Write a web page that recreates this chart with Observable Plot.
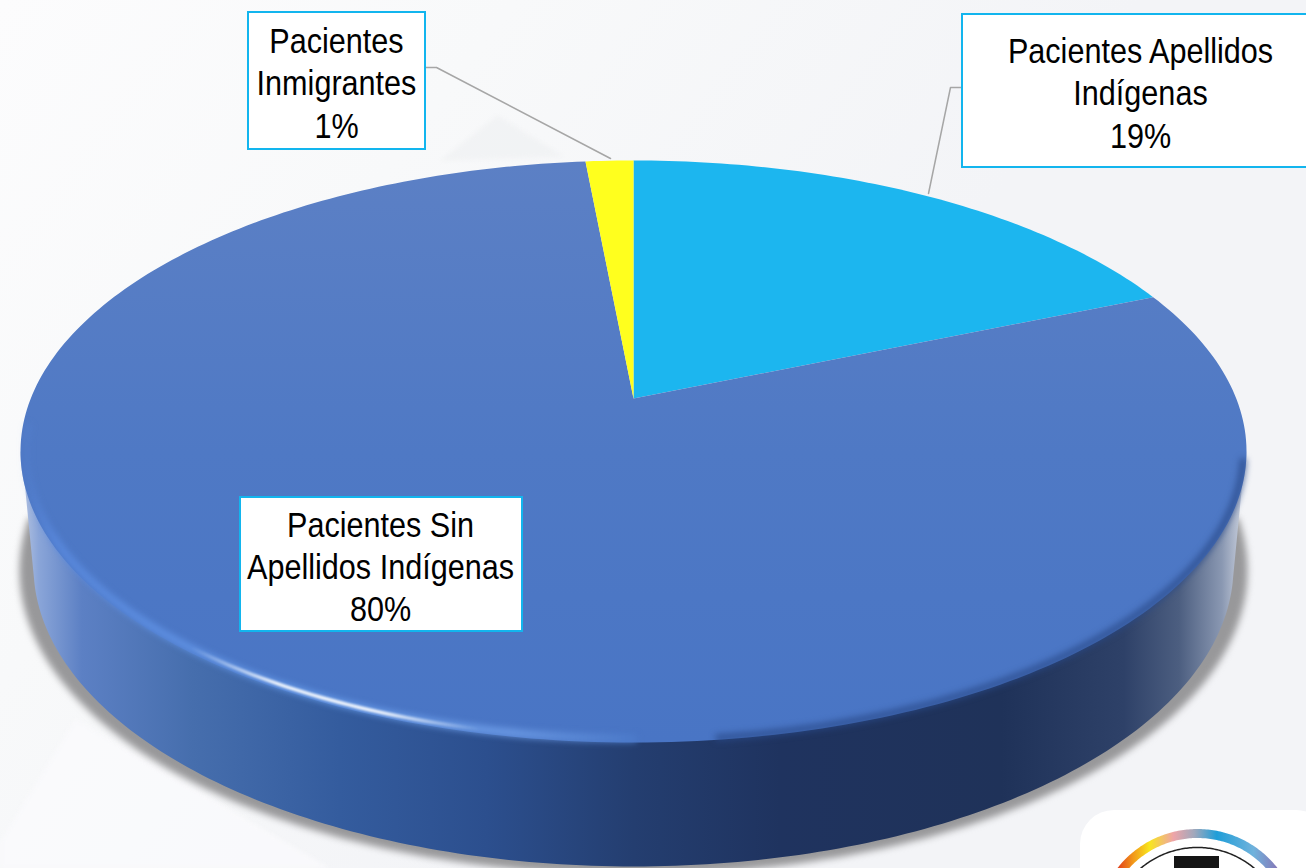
<!DOCTYPE html>
<html><head><meta charset="utf-8">
<script src="https://cdn.jsdelivr.net/npm/d3@7"></script>
<script src="https://cdn.jsdelivr.net/npm/@observablehq/plot@0.6"></script>
<style>html,body{margin:0;padding:0;overflow:hidden;background:#f4f5f8}svg{display:block}</style>
</head><body><div id="chart"></div>
<script>
// --- data ---
const categories = ["Pacientes Apellidos Indígenas", "Pacientes Sin Apellidos Indígenas", "Pacientes Inmigrantes"];
const shares = [18.7, 79.8, 1.5];          // geometric share of the pie
const labelTexts = ["Pacientes Apellidos\nIndígenas\n19%", "Pacientes Sin\nApellidos Indígenas\n80%", "Pacientes\nInmigrantes\n1%"];
const sliceFills = ["#1cb6ef", "url(#faceGrad)", "#ffff1e"];

// --- layout ---
const W = 1306, H = 868;
const top_ = {cx: 633, cy: 451, rx: 613, ry: 291};
const bottom_ = {cx: 633, cy: 566, rx: 600, ry: 300};
const shadow_ = {cx: 633, cy: 570, rx: 614, ry: 304};
const apexOffset = (398 - 451) / 291;
const labelBoxes = [
  {x1: 962, x2: 1310, y1: 14, y2: 167, tx: 1140, ty: 91.5},
  {x1: 240, x2: 522, y1: 497, y2: 631, tx: 380, ty: 565},
  {x1: 248, x2: 425, y1: 12, y2: 149, tx: 336, ty: 81.5}
];
const leaders = [
  [[962, 87], [950, 87], [928, 193]],
  [[425, 67], [436, 67], [610, 158]]
];

const rad = d => d * Math.PI / 180;
const ell = (e, deg) => [e.cx + e.rx * Math.sin(rad(deg)), e.cy - e.ry * Math.cos(rad(deg))];
const arc = (e, a, b, step = 1) => {
  const n = Math.max(2, Math.ceil(Math.abs(b - a) / step)), out = [];
  for (let i = 0; i <= n; i++) out.push(ell(e, a + (b - a) * i / n));
  return out;
};
// perspective: a share of the disc maps to a point on the tilted ellipse
const persp = deg => {
  const x = Math.sin(rad(deg)), y = -Math.cos(rad(deg)), a = apexOffset;
  const d = 1 + a * y;
  return [top_.cx + top_.rx * x * Math.sqrt(1 - a * a) / d, top_.cy + top_.ry * (y + a) / d];
};
const apex = [top_.cx, top_.cy + top_.ry * apexOffset];

let acc = 0;
const slices = shares.map((v, i) => {
  const a = acc / 100 * 360; acc += v; const b = acc / 100 * 360;
  const pts = [apex];
  const n = Math.ceil(b - a);
  for (let k = 0; k <= n; k++) pts.push(persp(a + (b - a) * k / n));
  pts.push(apex);
  return pts.map(p => ({x: p[0], y: p[1], s: categories[i], fill: sliceFills[i]}));
});

const wallPts = [...arc(top_, 270, 263), ...arc(bottom_, 268, 92), ...arc(top_, 97, 90)];
const wall = [...wallPts, wallPts[0]];
const shadow = [...arc(shadow_, 280, 80)];
const xy = {x: d => d[0], y: d => d[1]};

const logoRing = arc({cx: 1197, cy: 930, rx: 97, ry: 97}, -60, 60);
const logoInner = arc({cx: 1197, cy: 935, rx: 88, ry: 88}, -60, 60);

const defs = () => {
  const g = d3.create("svg:g");
  g.html(`<defs>
  <linearGradient id="bg" x1="0" y1="0" x2=".7" y2=".35">
    <stop offset="0" stop-color="#fcfcfd"/><stop offset=".45" stop-color="#f8f9fa"/><stop offset="1" stop-color="#f3f4f7"/>
  </linearGradient>
  <linearGradient id="faceGrad" gradientUnits="userSpaceOnUse" x1="0" y1="160" x2="0" y2="742">
    <stop offset="0" stop-color="#5c80c5"/><stop offset=".5" stop-color="#4f79c5"/><stop offset="1" stop-color="#4975c5"/>
  </linearGradient>
  <linearGradient id="wallGrad" gradientUnits="userSpaceOnUse" x1="20" y1="0" x2="1246" y2="0">
    <stop offset="0" stop-color="#b8c6e2"/><stop offset=".015" stop-color="#8aa5d8"/><stop offset=".05" stop-color="#5c80c4"/>
    <stop offset=".14" stop-color="#466ead"/><stop offset=".26" stop-color="#345c9e"/><stop offset=".38" stop-color="#2c4f8e"/>
    <stop offset=".5" stop-color="#243e70"/><stop offset=".62" stop-color="#1f335f"/><stop offset=".8" stop-color="#1f3259"/>
    <stop offset=".9" stop-color="#2e4168"/><stop offset=".945" stop-color="#4c5e80"/><stop offset=".98" stop-color="#8a98b2"/>
    <stop offset="1" stop-color="#d4d9e4"/>
  </linearGradient>
  <linearGradient id="shineGrad" gradientUnits="userSpaceOnUse" x1="20" y1="0" x2="633" y2="0">
    <stop offset="0" stop-color="#5a8adf" stop-opacity="0"/><stop offset=".06" stop-color="#5a8adf"/><stop offset=".5" stop-color="#6aa0ee"/>
    <stop offset=".8" stop-color="#6f9ee8"/><stop offset="1" stop-color="#4d7ccb"/>
  </linearGradient>
  <linearGradient id="whiteGrad" gradientUnits="userSpaceOnUse" x1="190" y1="0" x2="480" y2="0">
    <stop offset="0" stop-color="#fff" stop-opacity="0"/><stop offset=".3" stop-color="#fff" stop-opacity=".9"/>
    <stop offset=".65" stop-color="#fff" stop-opacity=".9"/><stop offset="1" stop-color="#fff" stop-opacity="0"/>
  </linearGradient>
  <linearGradient id="ringGrad" gradientUnits="userSpaceOnUse" x1="1117" y1="0" x2="1277" y2="0">
    <stop offset="0" stop-color="#e2401c"/><stop offset=".1" stop-color="#f29a1a"/><stop offset=".2" stop-color="#f8e61e"/>
    <stop offset=".35" stop-color="#eea4a8"/><stop offset=".48" stop-color="#a0a8bc"/><stop offset=".62" stop-color="#1f9ed8"/>
    <stop offset=".85" stop-color="#6fb2dc"/><stop offset="1" stop-color="#8678b8"/>
  </linearGradient></defs>`);
  return g.node();
};

const bgPolys = [
  {pts: [[0, 840], [75, 718], [330, 868], [0, 868]], f: "#fafafc", o: .9},
  {pts: [[440, 160], [497, 115], [563, 156]], f: "#eceef1", o: .55}
];

// narrow the label lettering, as in the reference
const narrow = (index, scales, values, dims, ctx, next) => {
  const g = next(index, scales, values, dims, ctx);
  g.querySelectorAll("text").forEach(t => t.setAttribute("transform", (t.getAttribute("transform") || "") + " scale(.85,1)"));
  return g;
};

const plot = Plot.plot({
  width: W, height: H, margin: 0,
  x: {domain: [0, W], range: [0, W], axis: null},
  y: {domain: [0, H], range: [0, H], axis: null},
  style: {background: "#f4f5f8", fontFamily: "'Liberation Sans', Arial, sans-serif"},
  marks: [
    defs,
    Plot.rect([0], {x1: 0, x2: W, y1: 0, y2: H, fill: "url(#bg)"}),
    ...bgPolys.map(p => Plot.line([...p.pts, p.pts[0]], {...xy, fill: p.f, fillOpacity: p.o, stroke: "none", imageFilter: "blur(2px)"})),
    // shadow
    Plot.line([...shadow, shadow[0]], {...xy, fill: "#98989a", stroke: "none", imageFilter: "blur(3.5px)"}),
    // side wall
    Plot.line(wall, {...xy, fill: "url(#wallGrad)", stroke: "none"}),
    // top face
    ...slices.map((s, i) => Plot.line(s, {x: "x", y: "y", fill: sliceFills[i], stroke: "none", curve: "linear"})),
    // bevel rim: dark on the right, bright on the lower left
    Plot.line(arc({...top_, rx: top_.rx - 3, ry: top_.ry - 2}, 92, 172), {...xy, stroke: "#2a4a88", strokeWidth: 7, strokeOpacity: .75, imageFilter: "blur(3px)"}),
    Plot.line(arc({...top_, rx: top_.rx - 5, ry: top_.ry - 4}, 180, 275), {...xy, stroke: "url(#shineGrad)", strokeWidth: 8, strokeOpacity: .85, imageFilter: "blur(3px)"}),
    Plot.line(arc({...top_, rx: top_.rx - 7, ry: top_.ry - 4}, 192, 232), {...xy, stroke: "url(#whiteGrad)", strokeWidth: 3.5, imageFilter: "blur(1px)"}),
    // leaders
    ...leaders.map(l => Plot.line(l, {...xy, stroke: "#a6a6a6", strokeWidth: 1.5})),
    // label boxes
    Plot.rect(labelBoxes, {x1: "x1", x2: "x2", y1: "y1", y2: "y2", fill: "#fff", stroke: "#12b5ee", strokeWidth: 2}),
    Plot.text(labelBoxes, {x: "tx", y: "ty", text: (d, i) => labelTexts[i], fontSize: 36, lineHeight: 1.17, fill: "#000", textAnchor: "middle", render: narrow}),
    // logo
    Plot.rect([0], {x1: 1080, x2: 1330, y1: 810, y2: 900, fill: "#fff", rx: 34}),
    Plot.line(logoRing, {...xy, stroke: "url(#ringGrad)", strokeWidth: 9}),
    Plot.line(logoInner, {...xy, stroke: "#222", strokeWidth: 1.5}),
    Plot.rect([0], {x1: 1174, x2: 1219, y1: 856, y2: 880, fill: "#151515"})
  ]
});
document.getElementById("chart").append(plot);
</script></body></html>
